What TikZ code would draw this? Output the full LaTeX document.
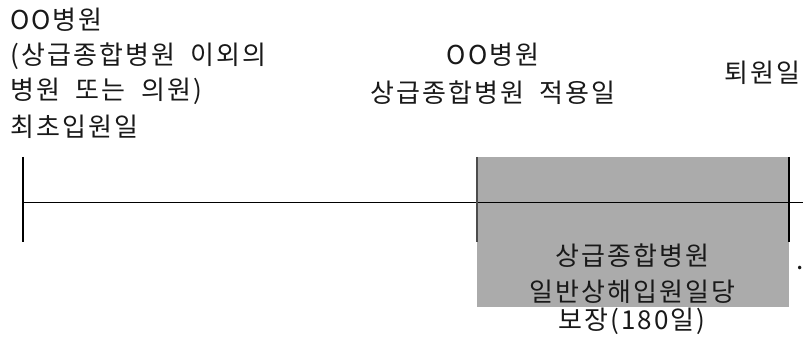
\documentclass[tikz,border=0pt]{standalone}
\usepackage{fontspec}
\newfontfamily\kr[LetterSpace=8]{Noto Sans CJK KR}
\definecolor{boxgray}{RGB}{171,171,171}
\begin{document}
\begin{tikzpicture}[x=1pt,y=-1pt,
  lbl/.style={font=\kr\fontsize{26}{36}\selectfont, inner sep=0pt, text=black!90},
  tick/.style={draw=black, line width=1.2pt}]
\useasboundingbox (0,0) rectangle (803,339);
% gray coverage box
\fill[boxgray] (477,157) rectangle (789,307);
% timeline
\coordinate (L) at (23,203);
\coordinate (R) at (803,203);
\draw[line width=1pt] (L) -- (R);
\draw[tick] (23,157) -- (23,242);
\draw[tick, draw=black!70] (477,157) -- (477,242);
\draw[tick] (789,157) -- (789,242);
% labels
\node[lbl, anchor=west] (a1) at (10,20) {OO병원};
\node[lbl, anchor=west] (a2) at (10,56) {(상급종합병원\ \ 이외의};
\node[lbl, anchor=west] (a3) at (10,91) {병원\ \ 또는\ \ 의원)};
\node[lbl, anchor=west] (a4) at (10,127) {최초입원일};
\node[lbl] (b1) at (493,55) {OO병원};
\node[lbl] (b2) at (493,93) {상급종합병원\ \ 적용일};
\node[lbl] (c1) at (762,73) {퇴원일};
\node[lbl] (d1) at (632,256) {상급종합병원};
\node[lbl] (d2) at (632,292) {일반상해입원일당};
\node[lbl] (d3) at (632,321) {보장(180일)};
\node[lbl] (dot) at (800,268) {.};
\end{tikzpicture}
\end{document}
